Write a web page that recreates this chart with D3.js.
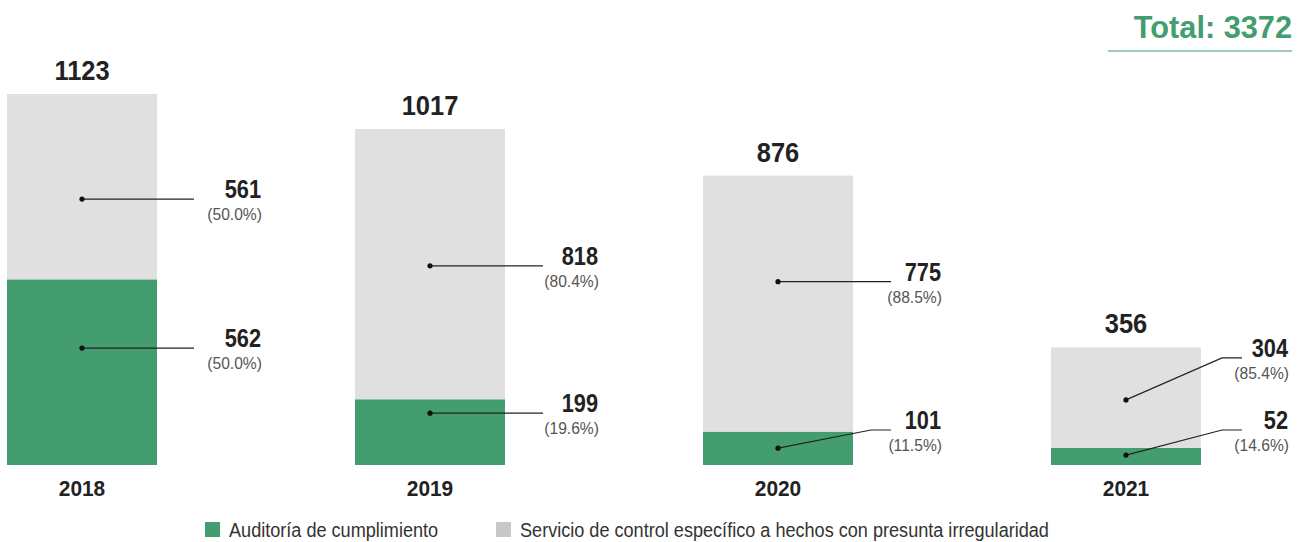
<!DOCTYPE html>
<html>
<head>
<meta charset="utf-8">
<script src="https://cdn.jsdelivr.net/npm/d3@7/dist/d3.min.js"></script>
<style>
  html, body { margin: 0; padding: 0; background: #fff; }
  svg { display: block; }
  text { font-family: "Liberation Sans", Arial, sans-serif; }
</style>
</head>
<body>
<svg id="chart" width="1301" height="542"></svg>
<script>
// Annual counts by type of control
const years = ["2018", "2019", "2020", "2021"];
const auditoria = [562, 199, 101, 52];      // Auditoría de cumplimiento
const servicio = [561, 818, 775, 304];      // Servicio de control específico
const seriesNames = ["Auditoría de cumplimiento", "Servicio de control específico a hechos con presunta irregularidad"];

// Callout placement, in value units along the bar (dot, and leader line level)
const calloutAuditoria = [
  { dot: 354, line: 354 }, { dot: 157, line: 157 }, { dot: 51, line: 106 }, { dot: 30, line: 106 }
];
const calloutServicio = [
  { dot: 805, line: 805 }, { dot: 603, line: 603 }, { dot: 555, line: 555 }, { dot: 197, line: 324 }
];
// Horizontal offsets of the leader end and label right edge from each bar
const lineEndGap = [37, 38, 38, 41];
const labelGap = [104, 93, 88, 87];

const green = "#439d6f";
const grey = "#e0e0e0";
const legendGrey = "#c8c8c8";

const totals = years.map((y, i) => auditoria[i] + servicio[i]);
const grandTotal = d3.sum(totals);

const svg = d3.select("#chart");

const x = d3.scaleBand().domain(years).range([7, 1201]).paddingInner(0.569).paddingOuter(0);
const y = d3.scaleLinear().domain([0, d3.max(totals)]).range([465, 94]);

const rows = years.map((yr, i) => ({
  year: yr, i,
  a: auditoria[i], s: servicio[i], total: totals[i]
}));

const fmtPct = v => "(" + d3.format(".1f")(v) + "%)";

// Narrowed text: position via transform so glyphs can be squeezed horizontally
function label(parent, tx, ty, str, opts) {
  return parent.append("text")
    .attr("transform", `translate(${tx},${ty}) scale(${opts.sx || 1},1)`)
    .attr("text-anchor", opts.anchor || "start")
    .attr("font-size", opts.size)
    .attr("font-weight", opts.bold ? "bold" : "normal")
    .attr("fill", opts.fill || "#222")
    .text(str);
}

// Stacked bars
const bars = svg.append("g");
bars.selectAll("rect.a").data(rows).join("rect")
  .attr("class", "a")
  .attr("x", d => x(d.year)).attr("width", x.bandwidth())
  .attr("y", d => y(d.a)).attr("height", d => y(0) - y(d.a))
  .attr("fill", green);
bars.selectAll("rect.s").data(rows).join("rect")
  .attr("class", "s")
  .attr("x", d => x(d.year)).attr("width", x.bandwidth())
  .attr("y", d => y(d.total)).attr("height", d => y(d.a) - y(d.total))
  .attr("fill", grey);

// Totals above bars and year labels below
const tg = svg.append("g");
rows.forEach(d => {
  const cx = x(d.year) + x.bandwidth() / 2;
  label(tg, cx, y(d.total) - 14, d.total, { size: 28, bold: true, sx: 0.91, anchor: "middle" });
  label(tg, cx, 496, d.year, { size: 22, bold: true, sx: 0.95, anchor: "middle" });
});

// Callouts: dot inside the segment, leader line, value and share labels
const callouts = [];
rows.forEach(d => {
  callouts.push({ d, value: d.a, pos: calloutAuditoria[d.i] });
  callouts.push({ d, value: d.s, pos: calloutServicio[d.i] });
});

const cg = svg.append("g").selectAll("g").data(callouts).join("g");
cg.each(function (c) {
  const g = d3.select(this);
  const cx = x(c.d.year) + x.bandwidth() / 2;
  const right = x(c.d.year) + x.bandwidth();
  const dy = y(c.pos.dot);
  const ly = y(c.pos.line);
  const endX = right + lineEndGap[c.d.i];
  const elbowX = endX - 20;
  const pts = ly === dy ? [[cx, dy], [endX, ly]] : [[cx, dy], [elbowX, ly], [endX, ly]];
  g.append("path")
    .attr("d", d3.line()(pts))
    .attr("fill", "none").attr("stroke", "#222").attr("stroke-width", 1.2);
  g.append("circle").attr("cx", cx).attr("cy", dy).attr("r", 2.6).attr("fill", "#111");
  const tx = right + labelGap[c.d.i];
  label(g, tx, ly - 1, c.value, { size: 25, bold: true, sx: 0.87, anchor: "end" });
  label(g, tx + 1, ly + 21, fmtPct(c.value / c.d.total * 100),
    { size: 17, sx: 0.92, anchor: "end", fill: "#555" });
});

// Grand total heading
label(svg, 1292, 38, "Total: " + grandTotal, { size: 32, bold: true, sx: 0.96, anchor: "end", fill: green });
svg.append("line")
  .attr("x1", 1108).attr("x2", 1292).attr("y1", 51).attr("y2", 51)
  .attr("stroke", "#9ccfb2").attr("stroke-width", 2);

// Legend
const legend = svg.append("g");
const legendItems = [
  { name: seriesNames[0], color: green, x: 205 },
  { name: seriesNames[1], color: legendGrey, x: 496 }
];
legendItems.forEach(d => {
  const g = legend.append("g").attr("transform", `translate(${d.x},522)`);
  g.append("rect").attr("width", 15).attr("height", 15).attr("fill", d.color);
  label(g, 24, 15, d.name, { size: 20, sx: 0.905, fill: "#333" });
});
</script>
</body>
</html>
